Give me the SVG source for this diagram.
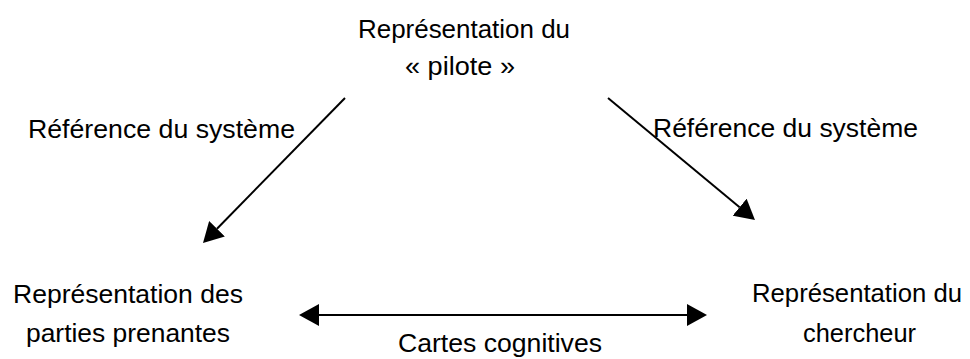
<svg xmlns="http://www.w3.org/2000/svg" width="970" height="359" viewBox="0 0 970 359">
  <style>
    .t { font-family: "Liberation Sans", Arial, sans-serif; font-size: 26px; fill: #000; }
    .c { stroke: #000; stroke-width: 2; fill: none; }
  </style>
  <defs>
    <marker id="ah" viewBox="0 0 20 22" refX="0" refY="11" markerWidth="20" markerHeight="22" markerUnits="userSpaceOnUse" orient="auto-start-reverse">
      <path d="M0,0 L20,11 L0,22 Z" fill="#000"/>
    </marker>
  </defs>
  <rect width="970" height="359" fill="#fff"/>
  <g id="connectors">
    <line class="c" x1="345" y1="98" x2="217" y2="228.7" marker-end="url(#ah)"/>
    <line class="c" x1="608" y1="98" x2="739.6" y2="207.2" marker-end="url(#ah)"/>
    <line class="c" x1="319" y1="315" x2="687" y2="315" marker-start="url(#ah)" marker-end="url(#ah)"/>
  </g>
  <g id="node-pilote">
    <text class="t" x="358" y="38" textLength="212" lengthAdjust="spacingAndGlyphs">Représentation du</text>
    <text class="t" x="405" y="75" textLength="110" lengthAdjust="spacingAndGlyphs">« pilote »</text>
  </g>
  <g id="node-parties">
    <text class="t" x="13" y="303" textLength="230" lengthAdjust="spacingAndGlyphs">Représentation des</text>
    <text class="t" x="26" y="342" textLength="204" lengthAdjust="spacingAndGlyphs">parties prenantes</text>
  </g>
  <g id="node-chercheur">
    <text class="t" x="752" y="302" textLength="210" lengthAdjust="spacingAndGlyphs">Représentation du</text>
    <text class="t" x="803" y="342" textLength="113" lengthAdjust="spacingAndGlyphs">chercheur</text>
  </g>
  <g id="labels">
    <text class="t" x="28" y="138" textLength="267" lengthAdjust="spacingAndGlyphs">Référence du système</text>
    <text class="t" x="653" y="137" textLength="265" lengthAdjust="spacingAndGlyphs">Référence du système</text>
    <text class="t" x="398" y="352" textLength="204" lengthAdjust="spacingAndGlyphs">Cartes cognitives</text>
  </g>
</svg>
